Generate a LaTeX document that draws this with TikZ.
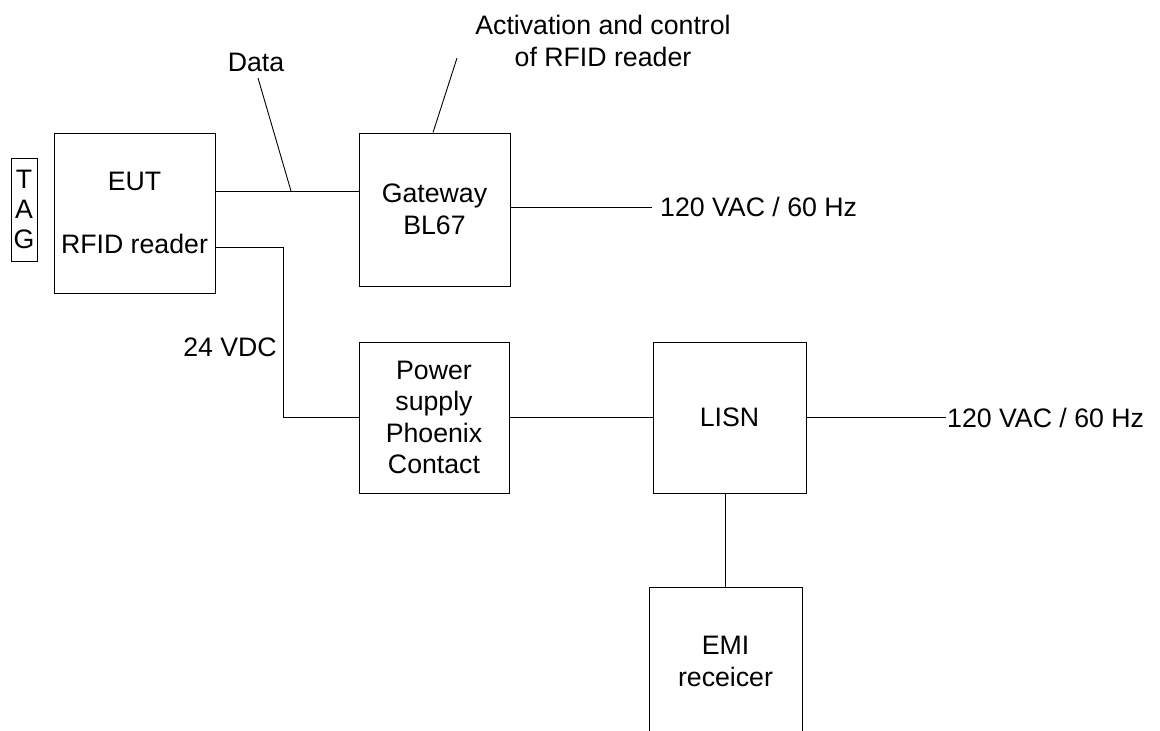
\documentclass[tikz,border=0pt]{standalone}
\usepackage{fontspec}
\setmainfont{Liberation Sans}
\begin{document}
\begin{tikzpicture}[x=1pt,y=-1pt,
  every node/.style={font=\fontsize{26.7}{31.5}\selectfont},
  blk/.style={draw,line width=0.9pt,inner sep=0pt,align=center},
  lbl/.style={inner sep=0pt,align=center},
  wire/.style={line width=0.9pt}]
\useasboundingbox (0,0) rectangle (1160,731);
% boxes
\node[blk,minimum width=26pt,minimum height=103pt,
  font=\fontsize{26.7}{30}\selectfont] (tag) at (24,209.5) {T\\A\\G};
\node[blk,minimum width=161pt,minimum height=160pt] (eut) at (134.5,213)
  {EUT\\[32pt]RFID reader};
\node[blk,minimum width=151pt,minimum height=153pt] (gw) at (434.5,209.5)
  {Gateway\\BL67};
\node[blk,minimum width=150pt,minimum height=151pt] (ps) at (434,417.5)
  {Power\\supply\\Phoenix\\Contact};
\node[blk,minimum width=153pt,minimum height=151pt] (lisn) at (729.5,417.5)
  {LISN};
\node[blk,minimum width=153pt,minimum height=149pt] (emi) at (725.5,661.5)
  {EMI\\receicer};
% labels
\node[lbl] (data) at (256,62) {Data};
\node[lbl] (act) at (603,41) {Activation and control\\of RFID reader};
\node[lbl,anchor=east] (vdc) at (277,347) {24 VDC};
\node[lbl,anchor=west,inner xsep=8pt] (vac1) at (652,207) {120 VAC / 60 Hz};
\node[lbl,anchor=west,inner xsep=1pt] (vac2) at (946,417.5) {120 VAC / 60 Hz};
% helper coordinates
\coordinate (dtap) at (291,191);
\coordinate (dtop) at (258,78);
\coordinate (atop) at (457,58);
\coordinate (pcorner) at (283,247);
% connectors
\draw[wire] (eut.east |- dtap) -- (gw.west |- dtap);
\draw[wire] (dtap) -- (dtop);
\draw[wire] (gw.north -| 433,0) -- (atop);
\draw[wire] (gw.east |- vac1.west) -- (vac1.west);
\draw[wire] (eut.east |- pcorner) -- (pcorner) |- (ps.west);
\draw[wire] (ps.east) -- (lisn.west);
\draw[wire] (lisn.east) -- (vac2.west);
\draw[wire] (emi.north |- lisn.south) -- (emi.north);
\end{tikzpicture}
\end{document}
